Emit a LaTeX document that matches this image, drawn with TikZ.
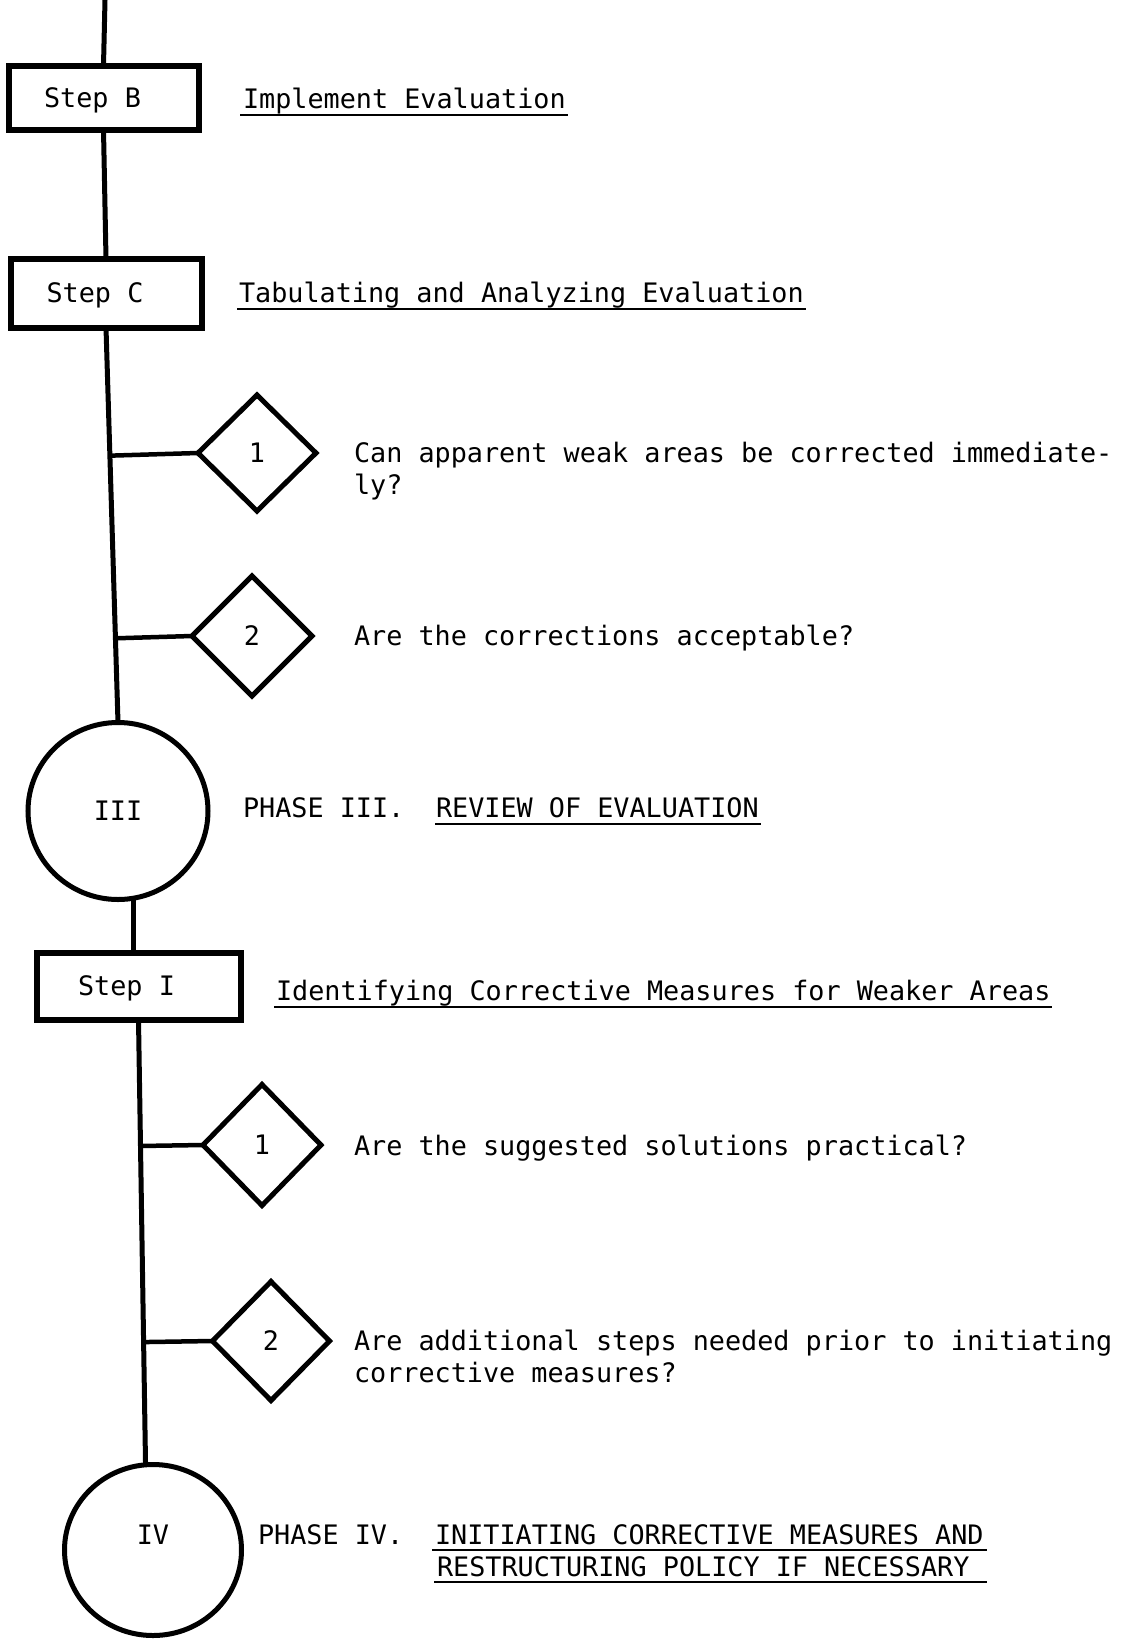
\documentclass[tikz,border=0pt]{standalone}
\usepackage{fontspec}
\setmainfont{DejaVu Sans Mono}
\usetikzlibrary{shapes.geometric,calc}
\tikzset{
  typed/.style={font=\fontsize{26.8}{32}\selectfont, inner sep=0pt, outer sep=0pt},
  txt/.style={typed, anchor=base west},
  stepbox/.style={typed, draw, rectangle, line width=6pt, text height=19.5pt, text depth=0pt},
  decision/.style={typed, draw, diamond, line width=5pt, text height=19.5pt, text depth=0pt},
  phase/.style={typed, draw, ellipse, line width=5pt},
  spine/.style={line width=5pt},
  branch/.style={line width=4.5pt},
  ul/.style={line width=2pt},
}
\begin{document}
\begin{tikzpicture}[x=1pt,y=-1pt]
\useasboundingbox[fill=white] (0,0) rectangle (1133,1641);

% --- boxes, diamonds, circles
\coordinate (top) at (105,0);
\node[stepbox, minimum width=190pt, minimum height=64pt] (sB) at (103.5,97.5) {\hspace*{-22pt}Step B};
\node[stepbox, minimum width=191pt, minimum height=69pt] (sC) at (106,293) {\hspace*{-22pt}Step C};
\node[decision, minimum width=118pt, minimum height=116pt] (d1) at (257,453) {1};
\node[decision, minimum width=120pt, minimum height=120pt] (d2) at (252,636) {2};
\node[phase, minimum width=180pt, minimum height=177pt] (c3) at (118,811) {III};
\node[stepbox, minimum width=204pt, minimum height=67pt] (sI) at (138.5,986) {\hspace*{-24pt}Step I};
\node[decision, minimum width=118pt, minimum height=121pt] (d3) at (262,1145) {1};
\node[decision, minimum width=117pt, minimum height=119pt] (d4) at (271,1341) {2};
\node[phase, minimum width=177pt, minimum height=171pt] (c4) at (153,1550) {};
\node[typed] (c4t) at ([yshift=15pt]c4.center) {IV};

% --- spine
\draw[spine] (top) -- (sB.north);
\draw[spine] (sB.south) -- (sC.north);
\draw[spine] (sC.south) -- (c3.north);
\draw[spine] (c3.-80) -- (c3.-80 |- sI.north);
\draw[spine] (sI.south) -- (c4.95);

% --- branches
\draw[branch] ($(sC.south)!(d1.west)!(c3.north)$) -- (d1.west);
\draw[branch] ($(sC.south)!(d2.west)!(c3.north)$) -- (d2.west);
\draw[branch] ($(sI.south)!(d3.west)!(c4.95)$) -- (d3.west);
\draw[branch] ($(sI.south)!(d4.west)!(c4.95)$) -- (d4.west);

% --- texts
\node[txt] (tB) at (243,108) {Implement Evaluation};
\node[txt] (tC) at (239,302) {Tabulating and Analyzing Evaluation};
\node[txt] (q1a) at (354,462) {Can apparent weak areas be corrected immediate-};
\node[txt] (q1b) at (354,494) {ly?};
\node[txt] (q2) at (354,645) {Are the corrections acceptable?};
\node[txt] (p3) at (243,817) {PHASE III.};
\node[txt] (r3) at (436,817) {REVIEW OF EVALUATION};
\node[txt] (tI) at (276,1000) {Identifying Corrective Measures for Weaker Areas};
\node[txt] (q3) at (354,1155) {Are the suggested solutions practical?};
\node[txt] (q4a) at (354,1350) {Are additional steps needed prior to initiating};
\node[txt] (q4b) at (354,1382) {corrective measures?};
\node[txt] (p4) at (258,1544) {PHASE IV.};
\node[txt] (r4a) at (435,1544) {INITIATING CORRECTIVE MEASURES AND};
\node[txt] (r4b) at (437,1576) {RESTRUCTURING POLICY IF NECESSARY};

% --- underlines
\draw[ul] ([shift={(-3pt,-7pt)}]tB.base west) -- ([shift={(2pt,-7pt)}]tB.base east);
\draw[ul] ([shift={(-2pt,-7pt)}]tC.base west) -- ([shift={(2pt,-7pt)}]tC.base east);
\draw[ul] ([shift={(-1pt,-7pt)}]r3.base west) -- ([shift={(2pt,-7pt)}]r3.base east);
\draw[ul] ([shift={(-2pt,-7pt)}]tI.base west) -- ([shift={(2pt,-7pt)}]tI.base east);
\draw[ul] ([shift={(-3pt,-6pt)}]r4a.base west) -- ([shift={(3pt,-6pt)}]r4a.base east);
\draw[ul] ([shift={(-3pt,-6pt)}]r4b.base west) -- ([shift={(18pt,-6pt)}]r4b.base east);
\end{tikzpicture}
\end{document}
